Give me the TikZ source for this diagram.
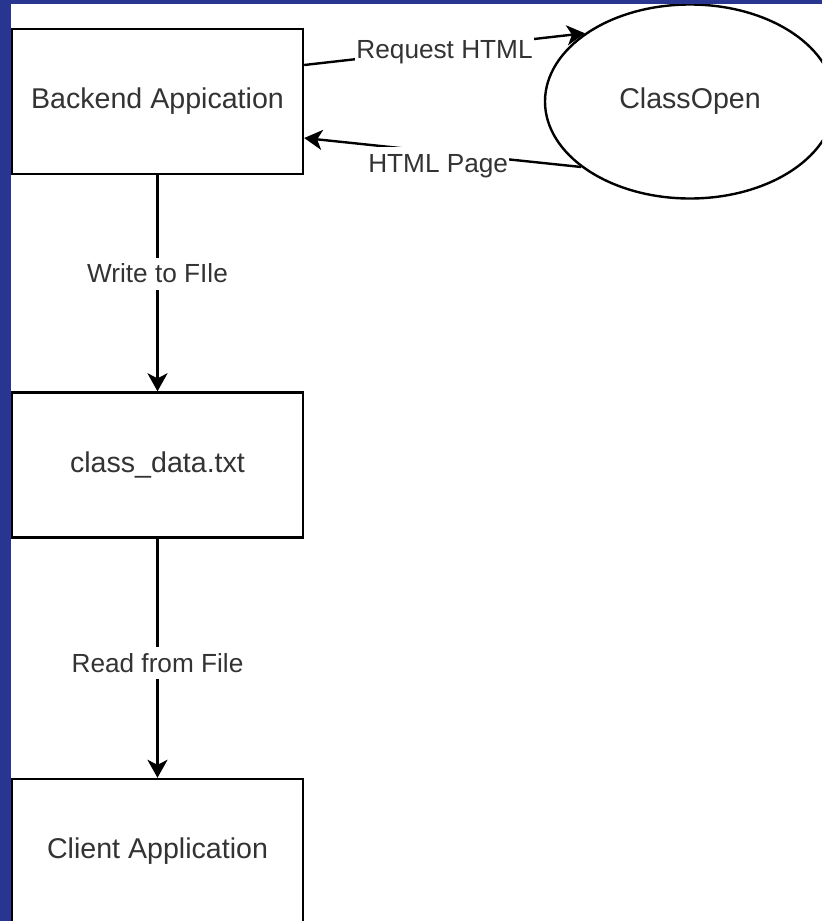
\documentclass[tikz,border=0pt]{standalone}
\usepackage{fontspec}
\setmainfont{Liberation Sans}
\usetikzlibrary{shapes.geometric,arrows.meta}
\definecolor{frameblue}{RGB}{40,54,146}
\definecolor{txt}{RGB}{51,51,51}
\begin{document}
\begin{tikzpicture}[x=1pt,y=-1pt,
  box/.style={draw=black,line width=2.4pt,fill=white,minimum width=291pt,minimum height=145pt,inner sep=0pt,font=\fontsize{28.6}{34}\selectfont,text=txt},
  oval/.style={ellipse,draw=black,line width=2.4pt,fill=white,minimum width=290pt,minimum height=194pt,inner sep=0pt,font=\fontsize{28.6}{34}\selectfont,text=txt},
  elabel/.style={fill=white,font=\fontsize{26.2}{31}\selectfont,text=txt,inner xsep=1pt,inner ysep=1.5pt,text height=23.7pt,text depth=5.6pt},
  flow/.style={line width=2.4pt,-{Stealth[length=18pt,width=20pt,inset=5pt]}}]
\useasboundingbox (0,0) rectangle (822,921);
\clip (0,0) rectangle (822,921);
\fill[white] (0,0) rectangle (822,921);
\node[box] (backend) at (157.5,101.5) {Backend Appication};
\node[box] (data) at (157.5,465) {class\_data.txt};
\node[box] (client) at (157.5,851.5) {Client Application};
\node[oval] (classopen) at (690,101.5) {ClassOpen};
\draw[flow] ([yshift=36.5pt]backend.east) -- node[elabel]{Request HTML} (classopen.147);
\draw[flow] (classopen.211) -- node[elabel,pos=0.516,yshift=-11pt]{HTML Page} ([yshift=-36.5pt]backend.east);
\draw[flow] (backend.south) -- node[elabel,pos=0.456]{Write to FIle} (data.north);
\draw[flow] (data.south) -- node[elabel,pos=0.52]{Read from File} (client.north);
\fill[frameblue] (0,0) rectangle (11,921);
\fill[frameblue] (0,0) rectangle (822,4);
\end{tikzpicture}
\end{document}
